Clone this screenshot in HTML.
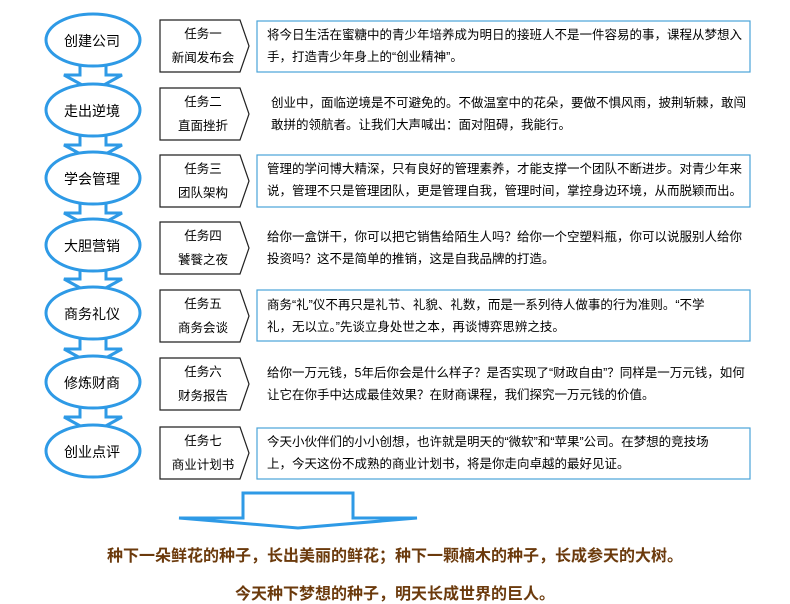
<!DOCTYPE html>
<html><head><meta charset="utf-8"><style>
body{margin:0;width:790px;height:604px;background:#fff;position:relative;overflow:hidden;font-family:"Liberation Sans","Noto Sans CJK SC",sans-serif;color:#000}
.t{position:absolute;font-size:12.5px;line-height:22px}
.e{position:absolute;font-size:14px;text-align:center;width:96px;left:44px}
.k{position:absolute;font-size:12.5px;text-align:center;width:86px;left:160px;line-height:24px}
.b{position:absolute;font-size:16px;color:#6b3a0c;width:790px;text-align:center;left:0;font-weight:bold}
</style></head><body>
<svg width="790" height="604" style="position:absolute;left:0;top:0">
<g fill="#fff" stroke="#2e9ae6" stroke-width="3">
<path d="M80 60 h26 v15 h16 l-29 16 l-29 -16 h16z"/>
<path d="M80 130 h26 v15 h16 l-29 16 l-29 -16 h16z"/>
<path d="M80 198 h26 v15 h16 l-29 16 l-29 -16 h16z"/>
<path d="M80 264 h26 v15 h16 l-29 16 l-29 -16 h16z"/>
<path d="M80 334 h26 v15 h16 l-29 16 l-29 -16 h16z"/>
<path d="M80 402 h26 v15 h16 l-29 16 l-29 -16 h16z"/>
<ellipse cx="93" cy="40" rx="47" ry="26"/>
<ellipse cx="93" cy="110" rx="47" ry="26"/>
<ellipse cx="93" cy="178" rx="47" ry="26"/>
<ellipse cx="93" cy="245" rx="47" ry="26"/>
<ellipse cx="93" cy="313" rx="47" ry="26"/>
<ellipse cx="93" cy="382" rx="47" ry="26"/>
<ellipse cx="93" cy="451" rx="47" ry="26"/>
<path d="M243 518 v-25 h110 v25 h64 l-119 10 l-119 -10z"/>
</g>
<g fill="#fff" stroke="#222" stroke-width="1.2">
<path d="M160 20 h80 l9 26 l-9 26 h-80z"/>
<path d="M160 88 h80 l9 26 l-9 26 h-80z"/>
<path d="M160 155 h80 l9 26 l-9 26 h-80z"/>
<path d="M160 222 h80 l9 26 l-9 26 h-80z"/>
<path d="M160 290 h80 l9 26 l-9 26 h-80z"/>
<path d="M160 358 h80 l9 26 l-9 26 h-80z"/>
<path d="M160 427 h80 l9 26 l-9 26 h-80z"/>
</g>
<g fill="none" stroke="#4aa3d8" stroke-width="1.2">
<rect x="257" y="21" width="493" height="51"/>
<rect x="257" y="155" width="493" height="52"/>
<rect x="257" y="290" width="493" height="51"/>
<rect x="257" y="428" width="493" height="51"/>
</g>
</svg>
<div class="e" style="top:31px">创建公司</div>
<div class="e" style="top:101px">走出逆境</div>
<div class="e" style="top:169px">学会管理</div>
<div class="e" style="top:236px">大胆营销</div>
<div class="e" style="top:304px">商务礼仪</div>
<div class="e" style="top:373px">修炼财商</div>
<div class="e" style="top:442px">创业点评</div>
<div class="k" style="top:22px">任务一<br>新闻发布会</div>
<div class="k" style="top:90px">任务二<br>直面挫折</div>
<div class="k" style="top:157px">任务三<br>团队架构</div>
<div class="k" style="top:224px">任务四<br>饕餮之夜</div>
<div class="k" style="top:292px">任务五<br>商务会谈</div>
<div class="k" style="top:360px">任务六<br>财务报告</div>
<div class="k" style="top:429px">任务七<br>商业计划书</div>
<div class="t" style="left:267px;top:24px;width:480px">将今日生活在蜜糖中的青少年培养成为明日的接班人不是一件容易的事，课程从梦想入手，打造青少年身上的“创业精神”。</div>
<div class="t" style="left:271px;top:92px;width:480px">创业中，面临逆境是不可避免的。不做温室中的花朵，要做不惧风雨，披荆斩棘，敢闯敢拼的领航者。让我们大声喊出：面对阻碍，我能行。</div>
<div class="t" style="left:267px;top:158px;width:480px">管理的学问博大精深，只有良好的管理素养，才能支撑一个团队不断进步。对青少年来说，管理不只是管理团队，更是管理自我，管理时间，掌控身边环境，从而脱颖而出。</div>
<div class="t" style="left:267px;top:226px;width:480px">给你一盒饼干，你可以把它销售给陌生人吗？给你一个空塑料瓶，你可以说服别人给你投资吗？这不是简单的推销，这是自我品牌的打造。</div>
<div class="t" style="left:267px;top:294px;width:470px">商务“礼”仪不再只是礼节、礼貌、礼数，而是一系列待人做事的行为准则。“不学<br>礼，无以立。”先谈立身处世之本，再谈博弈思辨之技。</div>
<div class="t" style="left:267px;top:362px;width:480px">给你一万元钱，5年后你会是什么样子？是否实现了“财政自由”？同样是一万元钱，如何让它在你手中达成最佳效果？在财商课程，我们探究一万元钱的价值。</div>
<div class="t" style="left:267px;top:431px;width:480px">今天小伙伴们的小小创想，也许就是明天的“微软”和“苹果”公司。在梦想的竞技场<br>上，今天这份不成熟的商业计划书，将是你走向卓越的最好见证。</div>
<div class="b" style="top:542px;left:0px">种下一朵鲜花的种子，长出美丽的鲜花；种下一颗楠木的种子，长成参天的大树。</div>
<div class="b" style="top:580px;left:0px">今天种下梦想的种子，明天长成世界的巨人。</div>
</body></html>
